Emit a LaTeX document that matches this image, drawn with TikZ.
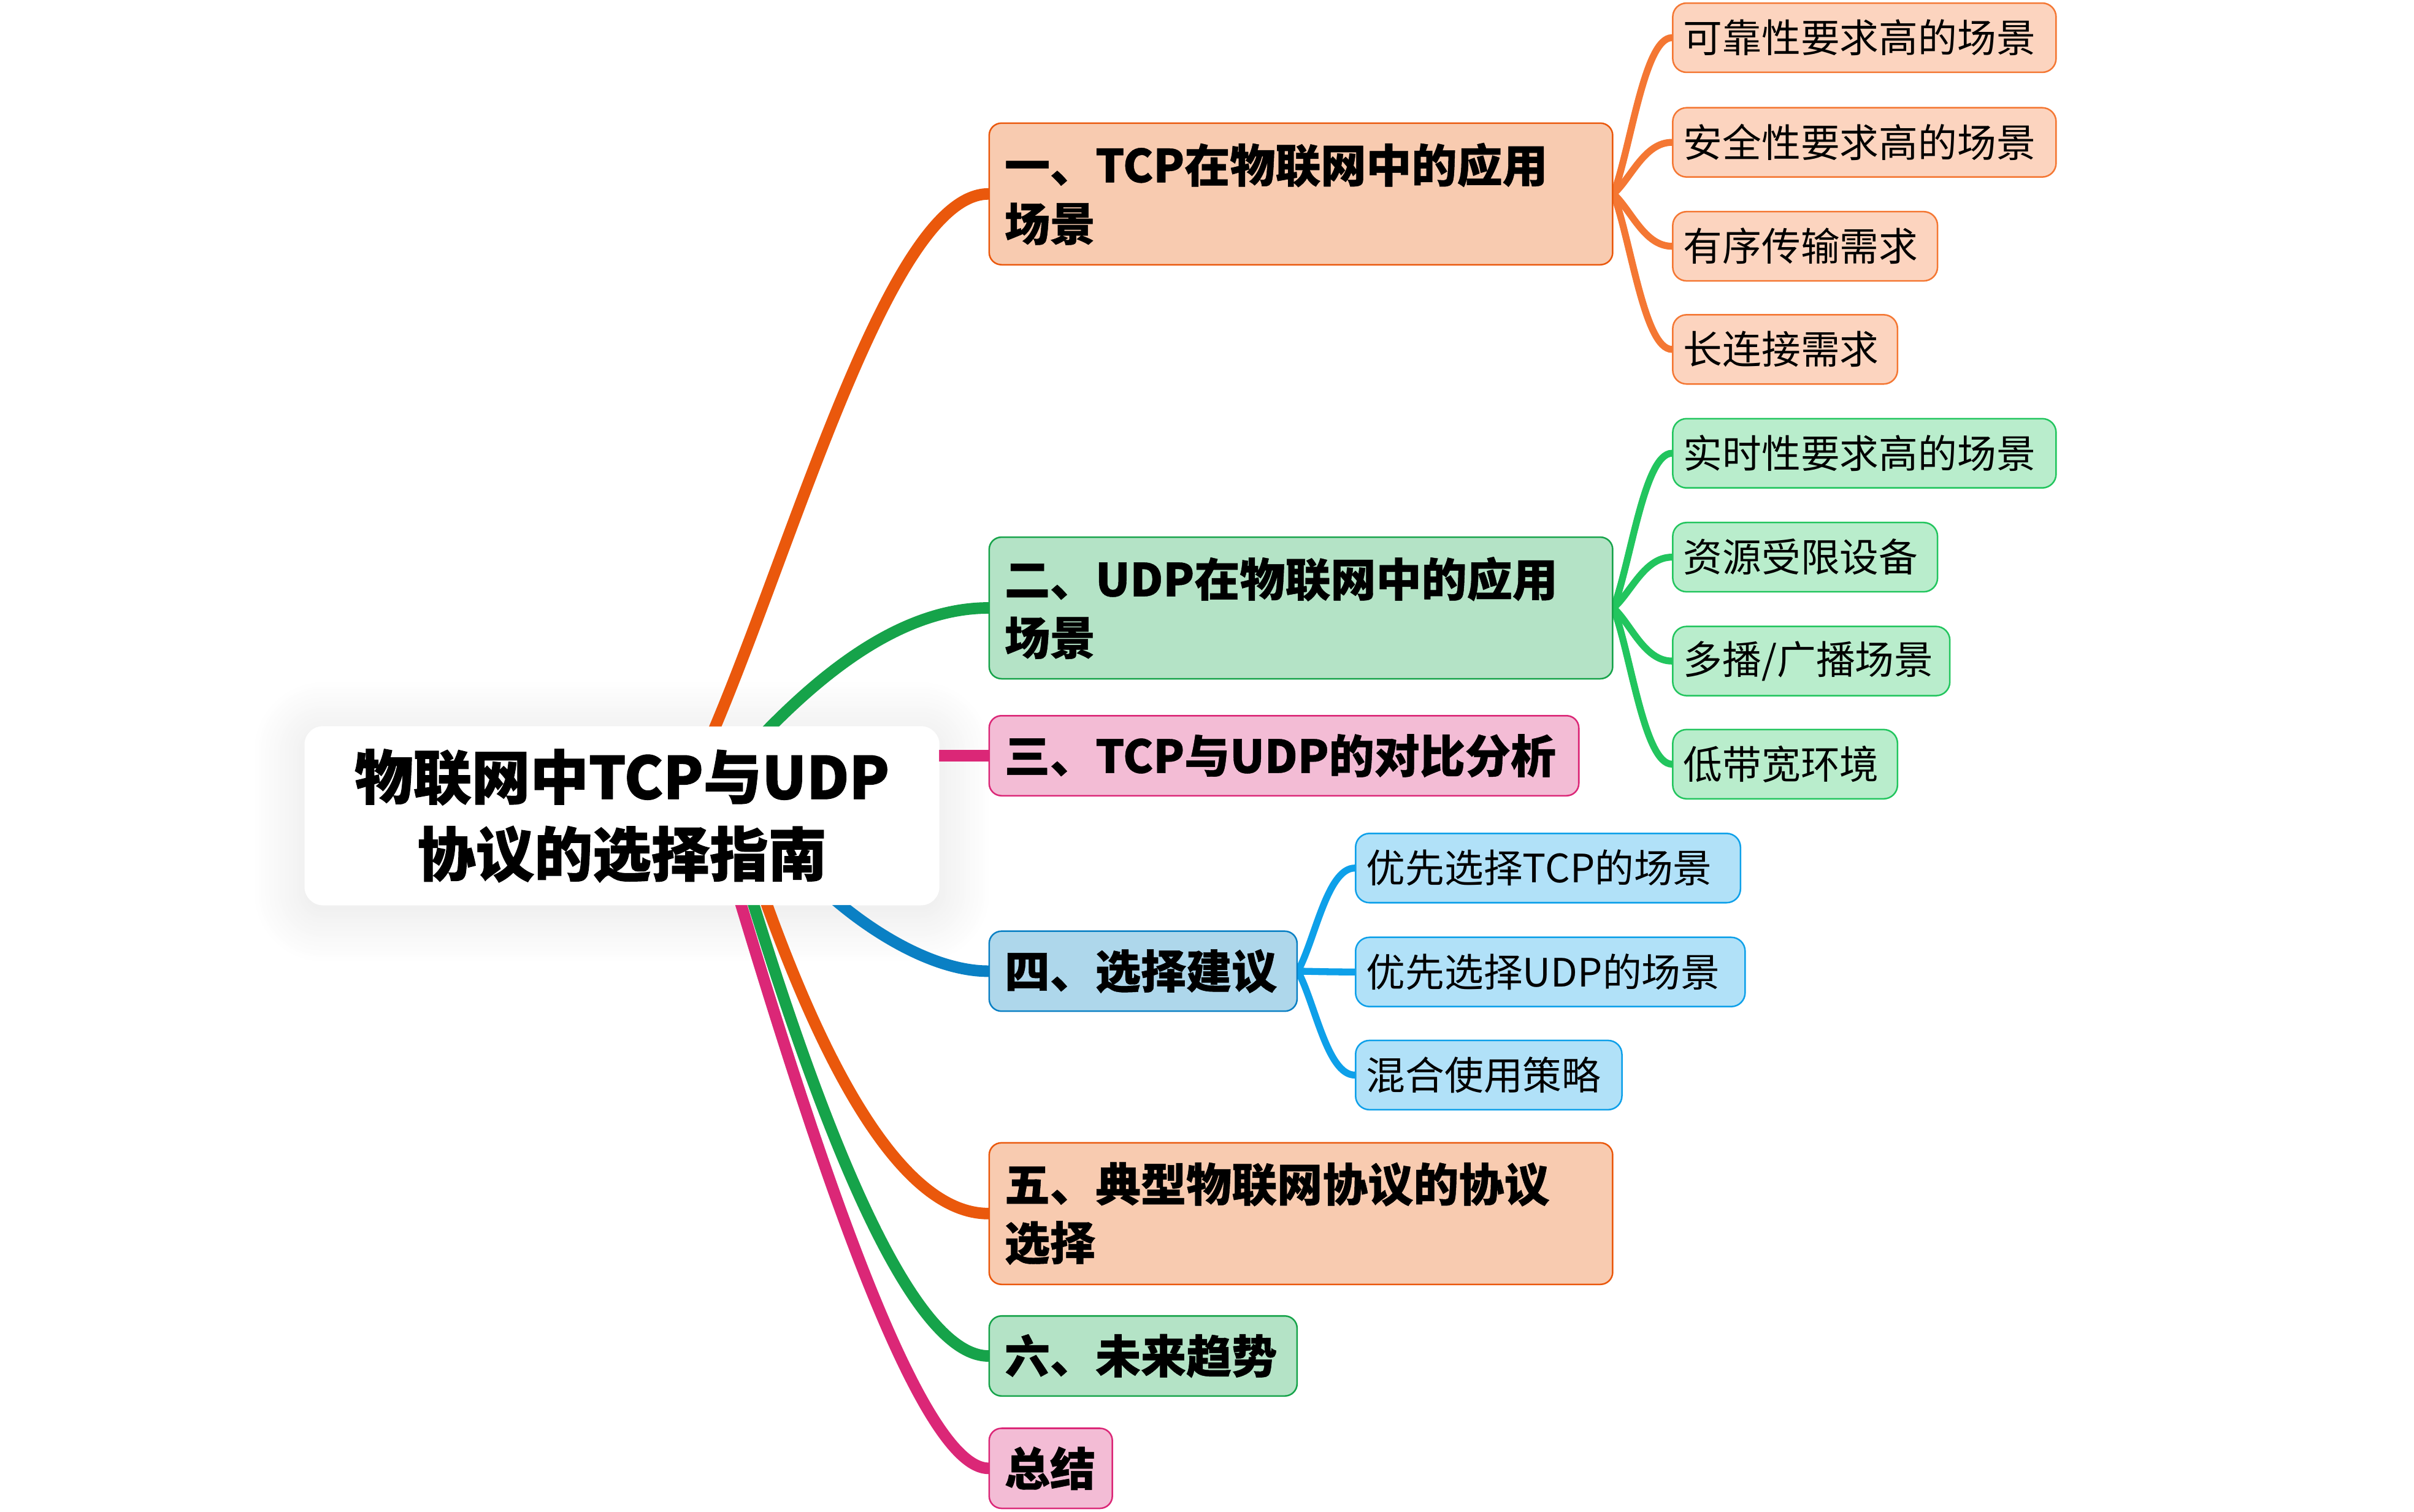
\documentclass[tikz,border=0pt]{standalone}
\usepackage{fontspec}
\setmainfont{Noto Sans CJK SC}
\newfontfamily\myheavy{Noto Sans CJK SC}[BoldFeatures={FakeBold=1.2}]
\newfontfamily\mysemiheavy{Noto Sans CJK SC}[BoldFeatures={FakeBold=0.6}]
\usetikzlibrary{calc,shadows.blur}
\pgfdeclarelayer{bg}
\pgfdeclarelayer{lines}
\pgfsetlayers{bg,lines,main}
\definecolor{oLine}{HTML}{EA580C}
\definecolor{oFill}{HTML}{F8CBB0}
\definecolor{oLeafLine}{HTML}{F47733}
\definecolor{oLeafFill}{HTML}{FCD4BF}
\definecolor{gLine}{HTML}{16A34A}
\definecolor{gFill}{HTML}{B4E3C6}
\definecolor{gLeafLine}{HTML}{22C55E}
\definecolor{gLeafFill}{HTML}{B9EDCC}
\definecolor{pLine}{HTML}{DB2777}
\definecolor{pFill}{HTML}{F3BCD5}
\definecolor{bLine}{HTML}{0A80C4}
\definecolor{bFill}{HTML}{AED7EB}
\definecolor{bLeafLine}{HTML}{0EA0E9}
\definecolor{bLeafFill}{HTML}{B1E1F8}
\newcommand\myrootfont{\myheavy\fontsize{38pt}{50pt}\selectfont\bfseries}
\newcommand\mytitlefont{\mysemiheavy\fontsize{29.5pt}{38pt}\selectfont\bfseries}
\newcommand\myleaffont{\fontsize{25.4pt}{30pt}\selectfont}
\begin{document}
\begin{tikzpicture}[x=1pt,y=-1pt,
  rootbox/.style={rectangle, rounded corners=12pt, fill=white, minimum width=412pt, minimum height=116pt, align=center, font=\myrootfont, inner sep=0pt},
  titlebox/.style={rectangle, rounded corners=8pt, line width=1pt, anchor=west, inner xsep=10pt, inner ysep=2pt, align=left, font=\mytitlefont, minimum height=52pt},
  leafbox/.style={rectangle, rounded corners=9pt, line width=1pt, anchor=west, inner xsep=7pt, inner ysep=2pt, align=left, font=\myleaffont, minimum height=45pt},
  boxO/.style={titlebox, draw=oLine, fill=oFill},
  boxG/.style={titlebox, draw=gLine, fill=gFill},
  boxP/.style={titlebox, draw=pLine, fill=pFill},
  boxB/.style={titlebox, draw=bLine, fill=bFill},
  leafO/.style={leafbox, draw=oLeafLine, fill=oLeafFill},
  leafG/.style={leafbox, draw=gLeafLine, fill=gLeafFill},
  leafB/.style={leafbox, draw=bLeafLine, fill=bLeafFill},
  mainline/.style={line width=7.5pt, line cap=round},
  leafline/.style={line width=4.5pt, line cap=round}]
\useasboundingbox (0,0) rectangle (1568,982);

% root
\node[rootbox] (root) at (404,530) {物联网中TCP与UDP\\协议的选择指南};

% main branches
\node[boxO, text width=385pt, minimum height=92pt] (t1) at (642,126) {一、TCP在物联网中的应用\\场景};
\node[boxG, text width=385pt, minimum height=92pt] (t2) at (642,395) {二、UDP在物联网中的应用\\场景};
\node[boxP, text width=363pt] (t3) at (642,491) {三、TCP与UDP的对比分析};
\node[boxB, text width=180pt] (t4) at (642,631) {四、选择建议};
\node[boxO, text width=385pt, minimum height=92pt] (t5) at (642,788.5) {五、典型物联网协议的协议\\选择};
\node[boxG, text width=180pt] (t6) at (642,881) {六、未来趋势};
\node[boxP, text width=60pt] (t7) at (642,954) {总结};

% leaves
\node[leafO, text width=235pt] (l1a) at (1086,24.5) {可靠性要求高的场景};
\node[leafO, text width=235pt] (l1b) at (1086,92.5) {安全性要求高的场景};
\node[leafO, text width=158pt] (l1c) at (1086,160) {有序传输需求};
\node[leafO, text width=132pt] (l1d) at (1086,227) {长连接需求};
\node[leafG, text width=235pt] (l2a) at (1086,294.5) {实时性要求高的场景};
\node[leafG, text width=158pt] (l2b) at (1086,362) {资源受限设备};
\node[leafG, text width=166pt] (l2c) at (1086,429.5) {多播/广播场景};
\node[leafG, text width=132pt] (l2d) at (1086,496.5) {低带宽环境};
\node[leafB, text width=236pt] (l4a) at (880,564) {优先选择TCP的场景};
\node[leafB, text width=239pt] (l4b) at (880,631.5) {优先选择UDP的场景};
\node[leafB, text width=159pt] (l4c) at (880,698.5) {混合使用策略};

% root shadow
\begin{pgfonlayer}{bg}
\path[fill=white, rounded corners=12pt, blur shadow={shadow xshift=0pt, shadow yshift=-4pt, shadow blur radius=34pt, shadow blur steps=25, shadow opacity=11}] (root.south west) rectangle (root.north east);
\end{pgfonlayer}

% connectors
\begin{pgfonlayer}{lines}
\draw[mainline, oLine] ($(root.center)+(41,-15)$) .. controls ($(root.center)+(100,-131)$) and ($(t1.west)+(-70,0)$) .. (t1.west);
\draw[mainline, gLine] ($(root.center)+(66,-25)$) .. controls ($(root.center)+(106,-70)$) and ($(t2.west)+(-70,0)$) .. (t2.west);
\draw[mainline, pLine] ($(root.center)+(176,-39)$) -- (t3.west);
\draw[mainline, bLine] ($(root.center)+(106,20)$) .. controls ($(root.center)+(126,50)$) and ($(t4.west)+(-50,0)$) .. (t4.west);
\draw[mainline, oLine] ($(root.center)+(81,20)$) .. controls ($(root.center)+(111,110)$) and ($(t5.west)+(-70,0)$) .. (t5.west);
\draw[mainline, gLine] ($(root.center)+(74,20)$) .. controls ($(root.center)+(110,140)$) and ($(t6.west)+(-60,0)$) .. (t6.west);
\draw[mainline, pLine] ($(root.center)+(66,20)$) .. controls ($(root.center)+(111,170)$) and ($(t7.west)+(-50,0)$) .. (t7.west);
\foreach \a/\b/\c in {t1/l1a/oLeafLine, t1/l1b/oLeafLine, t1/l1c/oLeafLine, t1/l1d/oLeafLine,
                      t2/l2a/gLeafLine, t2/l2b/gLeafLine, t2/l2c/gLeafLine, t2/l2d/gLeafLine,
                      t4/l4a/bLeafLine, t4/l4b/bLeafLine, t4/l4c/bLeafLine}
  \draw[leafline, \c] (\a.east) .. controls ($(\a.east)!0.3!(\b.west)$) and ($(\b.west)+(-18,0)$) .. (\b.west);
\end{pgfonlayer}
\end{tikzpicture}
\end{document}
